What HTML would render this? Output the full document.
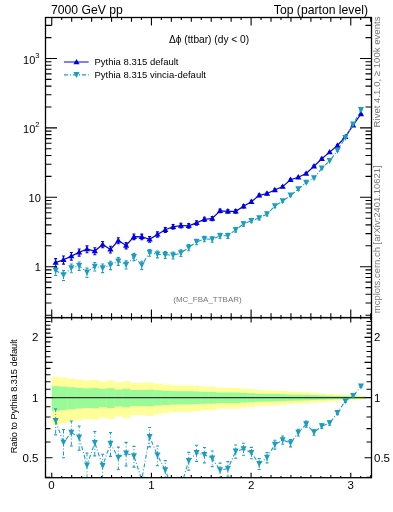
<!DOCTYPE html>
<html><head><meta charset="utf-8"><style>
html,body{margin:0;padding:0;background:#fff;}
body{width:393px;height:512px;overflow:hidden;position:relative;}
svg{position:absolute;left:0;top:0;will-change:transform;}
text{font-family:"Liberation Sans",sans-serif;}
</style></head><body>
<svg width="393" height="512" viewBox="0 0 393 512">
<defs><clipPath id="cm"><rect x="45.50" y="17.50" width="326.00" height="300.10"/></clipPath>
<clipPath id="cr"><rect x="45.50" y="317.60" width="326.00" height="160.10"/></clipPath></defs>
<g clip-path="url(#cr)"><g fill="#ffff99"><rect x="51.75" y="376.97" width="8.13" height="47.75"/><rect x="59.58" y="377.77" width="8.13" height="45.57"/><rect x="67.41" y="378.74" width="8.13" height="43.00"/><rect x="75.23" y="379.67" width="8.13" height="40.55"/><rect x="83.06" y="380.42" width="8.13" height="38.63"/><rect x="90.89" y="379.98" width="8.13" height="39.75"/><rect x="98.72" y="381.42" width="8.13" height="36.08"/><rect x="106.55" y="380.35" width="8.13" height="38.80"/><rect x="114.37" y="382.22" width="8.13" height="34.09"/><rect x="122.20" y="381.21" width="8.13" height="36.61"/><rect x="130.03" y="383.05" width="8.13" height="32.04"/><rect x="137.86" y="383.03" width="8.13" height="32.10"/><rect x="145.69" y="382.47" width="8.13" height="33.47"/><rect x="153.51" y="383.55" width="8.13" height="30.82"/><rect x="161.34" y="384.51" width="8.13" height="28.51"/><rect x="169.17" y="385.10" width="8.13" height="27.10"/><rect x="177.00" y="385.35" width="8.13" height="26.51"/><rect x="184.83" y="385.29" width="8.13" height="26.65"/><rect x="192.66" y="385.83" width="8.13" height="25.38"/><rect x="200.48" y="386.47" width="8.13" height="23.89"/><rect x="208.31" y="386.61" width="8.13" height="23.57"/><rect x="216.14" y="387.84" width="8.13" height="20.75"/><rect x="223.97" y="387.78" width="8.13" height="20.89"/><rect x="231.80" y="387.78" width="8.13" height="20.89"/><rect x="239.62" y="388.52" width="8.13" height="19.21"/><rect x="247.45" y="389.16" width="8.13" height="17.79"/><rect x="255.28" y="389.97" width="8.13" height="15.99"/><rect x="263.11" y="390.19" width="8.13" height="15.51"/><rect x="270.94" y="390.59" width="8.13" height="14.64"/><rect x="278.76" y="390.96" width="8.13" height="13.83"/><rect x="286.59" y="391.64" width="8.13" height="12.35"/><rect x="294.42" y="391.89" width="8.13" height="11.83"/><rect x="302.25" y="392.22" width="8.13" height="11.12"/><rect x="310.08" y="392.82" width="8.13" height="9.85"/><rect x="317.90" y="393.36" width="8.13" height="8.69"/><rect x="325.73" y="393.79" width="8.13" height="7.79"/><rect x="333.56" y="394.18" width="8.13" height="6.98"/><rect x="341.39" y="394.63" width="8.13" height="6.05"/><rect x="349.22" y="395.14" width="8.13" height="4.98"/><rect x="357.04" y="395.56" width="8.13" height="4.14"/></g><g fill="#98fb98"><rect x="51.75" y="386.21" width="8.13" height="24.51"/><rect x="59.58" y="386.69" width="8.13" height="23.38"/><rect x="67.41" y="387.31" width="8.13" height="21.97"/><rect x="75.23" y="387.90" width="8.13" height="20.62"/><rect x="83.06" y="388.38" width="8.13" height="19.54"/><rect x="90.89" y="388.10" width="8.13" height="20.17"/><rect x="98.72" y="389.02" width="8.13" height="18.10"/><rect x="106.55" y="388.33" width="8.13" height="19.64"/><rect x="114.37" y="389.54" width="8.13" height="16.95"/><rect x="122.20" y="388.89" width="8.13" height="18.40"/><rect x="130.03" y="390.02" width="8.13" height="15.89"/><rect x="137.86" y="390.01" width="8.13" height="15.91"/><rect x="145.69" y="389.70" width="8.13" height="16.59"/><rect x="153.51" y="390.29" width="8.13" height="15.29"/><rect x="161.34" y="390.81" width="8.13" height="14.16"/><rect x="169.17" y="391.13" width="8.13" height="13.47"/><rect x="177.00" y="391.26" width="8.13" height="13.18"/><rect x="184.83" y="391.23" width="8.13" height="13.25"/><rect x="192.66" y="391.52" width="8.13" height="12.62"/><rect x="200.48" y="391.86" width="8.13" height="11.89"/><rect x="208.31" y="391.93" width="8.13" height="11.73"/><rect x="216.14" y="392.58" width="8.13" height="10.34"/><rect x="223.97" y="392.55" width="8.13" height="10.41"/><rect x="231.80" y="392.55" width="8.13" height="10.41"/><rect x="239.62" y="392.94" width="8.13" height="9.58"/><rect x="247.45" y="393.28" width="8.13" height="8.87"/><rect x="255.28" y="393.70" width="8.13" height="7.98"/><rect x="263.11" y="393.82" width="8.13" height="7.74"/><rect x="270.94" y="394.02" width="8.13" height="7.30"/><rect x="278.76" y="394.22" width="8.13" height="6.90"/><rect x="286.59" y="394.57" width="8.13" height="6.17"/><rect x="294.42" y="394.70" width="8.13" height="5.91"/><rect x="302.25" y="394.87" width="8.13" height="5.55"/><rect x="310.08" y="395.17" width="8.13" height="4.92"/><rect x="317.90" y="395.45" width="8.13" height="4.34"/><rect x="325.73" y="395.67" width="8.13" height="3.89"/><rect x="333.56" y="395.87" width="8.13" height="3.49"/><rect x="341.39" y="396.10" width="8.13" height="3.03"/><rect x="349.22" y="396.36" width="8.13" height="2.49"/><rect x="357.04" y="396.57" width="8.13" height="2.07"/></g>
<line x1="51.75" y1="397.60" x2="364.87" y2="397.60" stroke="#333" stroke-width="1.1"/>
<polyline points="55.66,420.90 63.49,442.50 71.32,432.60 79.15,437.30 86.98,465.40 94.80,442.80 102.63,465.80 110.46,443.60 118.29,457.60 126.12,453.40 133.94,456.10 141.77,479.60 149.60,436.70 157.43,455.30 165.26,470.10 173.08,490.60 180.91,486.60 188.74,460.80 196.57,452.90 204.40,454.80 212.23,458.40 220.05,470.10 227.88,468.60 235.71,451.40 243.54,449.00 251.37,452.90 259.19,463.90 267.02,457.60 274.85,444.60 282.68,440.00 290.51,443.10 298.33,432.60 306.16,424.10 313.99,432.40 321.82,426.10 329.65,423.10 337.47,412.80 345.30,401.00 353.13,395.90 360.96,386.40" fill="none" stroke="#1a9dc0" stroke-width="1.1" stroke-dasharray="4 2 1 2"/>
<path d="M55.66 420.90V408.83M55.66 420.90V434.92" stroke="#1a9dc0" stroke-width="1.0" fill="none" stroke-dasharray="4 2 1 2"/><path d="M54.16 408.83H57.16M54.16 434.92H57.16" stroke="#1a9dc0" stroke-width="1.1" fill="none"/>
<path d="M55.66 424.10L58.66 418.10L52.66 418.10Z" fill="#1a9dc0"/>
<path d="M63.49 442.50V429.52M63.49 442.50V457.76" stroke="#1a9dc0" stroke-width="1.0" fill="none" stroke-dasharray="4 2 1 2"/><path d="M61.99 429.52H64.99M61.99 457.76H64.99" stroke="#1a9dc0" stroke-width="1.1" fill="none"/>
<path d="M63.49 445.70L66.49 439.70L60.49 439.70Z" fill="#1a9dc0"/>
<path d="M71.32 432.60V420.98M71.32 432.60V446.02" stroke="#1a9dc0" stroke-width="1.0" fill="none" stroke-dasharray="4 2 1 2"/><path d="M69.82 420.98H72.82M69.82 446.02H72.82" stroke="#1a9dc0" stroke-width="1.1" fill="none"/>
<path d="M71.32 435.80L74.32 429.80L68.32 429.80Z" fill="#1a9dc0"/>
<path d="M79.15 437.30V426.07M79.15 437.30V450.21" stroke="#1a9dc0" stroke-width="1.0" fill="none" stroke-dasharray="4 2 1 2"/><path d="M77.65 426.07H80.65M77.65 450.21H80.65" stroke="#1a9dc0" stroke-width="1.1" fill="none"/>
<path d="M79.15 440.50L82.15 434.50L76.15 434.50Z" fill="#1a9dc0"/>
<path d="M86.98 465.40V452.96M86.98 465.40V479.92" stroke="#1a9dc0" stroke-width="1.0" fill="none" stroke-dasharray="4 2 1 2"/><path d="M85.48 452.96H88.48M85.48 479.92H88.48" stroke="#1a9dc0" stroke-width="1.1" fill="none"/>
<path d="M86.98 468.60L89.98 462.60L83.98 462.60Z" fill="#1a9dc0"/>
<path d="M94.80 442.80V431.46M94.80 442.80V455.85" stroke="#1a9dc0" stroke-width="1.0" fill="none" stroke-dasharray="4 2 1 2"/><path d="M93.30 431.46H96.30M93.30 455.85H96.30" stroke="#1a9dc0" stroke-width="1.1" fill="none"/>
<path d="M94.80 446.00L97.80 440.00L91.80 440.00Z" fill="#1a9dc0"/>
<path d="M102.63 465.80V454.19M102.63 465.80V479.20" stroke="#1a9dc0" stroke-width="1.0" fill="none" stroke-dasharray="4 2 1 2"/><path d="M101.13 454.19H104.13M101.13 479.20H104.13" stroke="#1a9dc0" stroke-width="1.1" fill="none"/>
<path d="M102.63 469.00L105.63 463.00L99.63 463.00Z" fill="#1a9dc0"/>
<path d="M110.46 443.60V432.49M110.46 443.60V456.34" stroke="#1a9dc0" stroke-width="1.0" fill="none" stroke-dasharray="4 2 1 2"/><path d="M108.96 432.49H111.96M108.96 456.34H111.96" stroke="#1a9dc0" stroke-width="1.1" fill="none"/>
<path d="M110.46 446.80L113.46 440.80L107.46 440.80Z" fill="#1a9dc0"/>
<path d="M118.29 457.60V447.15M118.29 457.60V469.48" stroke="#1a9dc0" stroke-width="1.0" fill="none" stroke-dasharray="4 2 1 2"/><path d="M116.79 447.15H119.79M116.79 469.48H119.79" stroke="#1a9dc0" stroke-width="1.1" fill="none"/>
<path d="M118.29 460.80L121.29 454.80L115.29 454.80Z" fill="#1a9dc0"/>
<path d="M126.12 453.40V442.38M126.12 453.40V466.03" stroke="#1a9dc0" stroke-width="1.0" fill="none" stroke-dasharray="4 2 1 2"/><path d="M124.62 442.38H127.62M124.62 466.03H127.62" stroke="#1a9dc0" stroke-width="1.1" fill="none"/>
<path d="M126.12 456.60L129.12 450.60L123.12 450.60Z" fill="#1a9dc0"/>
<path d="M133.94 456.10V446.35M133.94 456.10V467.08" stroke="#1a9dc0" stroke-width="1.0" fill="none" stroke-dasharray="4 2 1 2"/><path d="M132.44 446.35H135.44M132.44 467.08H135.44" stroke="#1a9dc0" stroke-width="1.1" fill="none"/>
<path d="M133.94 459.30L136.94 453.30L130.94 453.30Z" fill="#1a9dc0"/>
<path d="M141.77 482.80L144.77 476.80L138.77 476.80Z" fill="#1a9dc0"/>
<path d="M149.60 436.70V427.56M149.60 436.70V446.91" stroke="#1a9dc0" stroke-width="1.0" fill="none" stroke-dasharray="4 2 1 2"/><path d="M148.10 427.56H151.10M148.10 446.91H151.10" stroke="#1a9dc0" stroke-width="1.1" fill="none"/>
<path d="M149.60 439.90L152.60 433.90L146.60 433.90Z" fill="#1a9dc0"/>
<path d="M157.43 455.30V445.94M157.43 455.30V465.79" stroke="#1a9dc0" stroke-width="1.0" fill="none" stroke-dasharray="4 2 1 2"/><path d="M155.93 445.94H158.93M155.93 465.79H158.93" stroke="#1a9dc0" stroke-width="1.1" fill="none"/>
<path d="M157.43 458.50L160.43 452.50L154.43 452.50Z" fill="#1a9dc0"/>
<path d="M165.26 470.10V460.66M165.26 470.10V480.69" stroke="#1a9dc0" stroke-width="1.0" fill="none" stroke-dasharray="4 2 1 2"/><path d="M163.76 460.66H166.76M163.76 480.69H166.76" stroke="#1a9dc0" stroke-width="1.1" fill="none"/>
<path d="M165.26 473.30L168.26 467.30L162.26 467.30Z" fill="#1a9dc0"/>
<path d="M173.08 493.80L176.08 487.80L170.08 487.80Z" fill="#1a9dc0"/>
<path d="M180.91 489.80L183.91 483.80L177.91 483.80Z" fill="#1a9dc0"/>
<path d="M188.74 460.80V452.38M188.74 460.80V470.13" stroke="#1a9dc0" stroke-width="1.0" fill="none" stroke-dasharray="4 2 1 2"/><path d="M187.24 452.38H190.24M187.24 470.13H190.24" stroke="#1a9dc0" stroke-width="1.1" fill="none"/>
<path d="M188.74 464.00L191.74 458.00L185.74 458.00Z" fill="#1a9dc0"/>
<path d="M196.57 452.90V445.20M196.57 452.90V461.35" stroke="#1a9dc0" stroke-width="1.0" fill="none" stroke-dasharray="4 2 1 2"/><path d="M195.07 445.20H198.07M195.07 461.35H198.07" stroke="#1a9dc0" stroke-width="1.1" fill="none"/>
<path d="M196.57 456.10L199.57 450.10L193.57 450.10Z" fill="#1a9dc0"/>
<path d="M204.40 454.80V447.45M204.40 454.80V462.83" stroke="#1a9dc0" stroke-width="1.0" fill="none" stroke-dasharray="4 2 1 2"/><path d="M202.90 447.45H205.90M202.90 462.83H205.90" stroke="#1a9dc0" stroke-width="1.1" fill="none"/>
<path d="M204.40 458.00L207.40 452.00L201.40 452.00Z" fill="#1a9dc0"/>
<path d="M212.23 458.40V450.99M212.23 458.40V466.50" stroke="#1a9dc0" stroke-width="1.0" fill="none" stroke-dasharray="4 2 1 2"/><path d="M210.73 450.99H213.73M210.73 466.50H213.73" stroke="#1a9dc0" stroke-width="1.1" fill="none"/>
<path d="M212.23 461.60L215.23 455.60L209.23 455.60Z" fill="#1a9dc0"/>
<path d="M220.05 470.10V463.10M220.05 470.10V477.71" stroke="#1a9dc0" stroke-width="1.0" fill="none" stroke-dasharray="4 2 1 2"/><path d="M218.55 463.10H221.55M218.55 477.71H221.55" stroke="#1a9dc0" stroke-width="1.1" fill="none"/>
<path d="M220.05 473.30L223.05 467.30L217.05 467.30Z" fill="#1a9dc0"/>
<path d="M227.88 468.60V461.61M227.88 468.60V476.20" stroke="#1a9dc0" stroke-width="1.0" fill="none" stroke-dasharray="4 2 1 2"/><path d="M226.38 461.61H229.38M226.38 476.20H229.38" stroke="#1a9dc0" stroke-width="1.1" fill="none"/>
<path d="M227.88 471.80L230.88 465.80L224.88 465.80Z" fill="#1a9dc0"/>
<path d="M235.71 451.40V445.05M235.71 451.40V458.25" stroke="#1a9dc0" stroke-width="1.0" fill="none" stroke-dasharray="4 2 1 2"/><path d="M234.21 445.05H237.21M234.21 458.25H237.21" stroke="#1a9dc0" stroke-width="1.1" fill="none"/>
<path d="M235.71 454.60L238.71 448.60L232.71 448.60Z" fill="#1a9dc0"/>
<path d="M243.54 449.00V443.22M243.54 449.00V455.20" stroke="#1a9dc0" stroke-width="1.0" fill="none" stroke-dasharray="4 2 1 2"/><path d="M242.04 443.22H245.04M242.04 455.20H245.04" stroke="#1a9dc0" stroke-width="1.1" fill="none"/>
<path d="M243.54 452.20L246.54 446.20L240.54 446.20Z" fill="#1a9dc0"/>
<path d="M251.37 452.90V447.41M251.37 452.90V458.76" stroke="#1a9dc0" stroke-width="1.0" fill="none" stroke-dasharray="4 2 1 2"/><path d="M249.87 447.41H252.87M249.87 458.76H252.87" stroke="#1a9dc0" stroke-width="1.1" fill="none"/>
<path d="M251.37 456.10L254.37 450.10L248.37 450.10Z" fill="#1a9dc0"/>
<path d="M259.19 463.90V458.63M259.19 463.90V469.51" stroke="#1a9dc0" stroke-width="1.0" fill="none" stroke-dasharray="4 2 1 2"/><path d="M257.69 458.63H260.69M257.69 469.51H260.69" stroke="#1a9dc0" stroke-width="1.1" fill="none"/>
<path d="M259.19 467.10L262.19 461.10L256.19 461.10Z" fill="#1a9dc0"/>
<path d="M267.02 457.60V452.66M267.02 457.60V462.84" stroke="#1a9dc0" stroke-width="1.0" fill="none" stroke-dasharray="4 2 1 2"/><path d="M265.52 452.66H268.52M265.52 462.84H268.52" stroke="#1a9dc0" stroke-width="1.1" fill="none"/>
<path d="M267.02 460.80L270.02 454.80L264.02 454.80Z" fill="#1a9dc0"/>
<path d="M274.85 444.60V440.26M274.85 444.60V449.17" stroke="#1a9dc0" stroke-width="1.0" fill="none" stroke-dasharray="4 2 1 2"/><path d="M273.35 440.26H276.35M273.35 449.17H276.35" stroke="#1a9dc0" stroke-width="1.1" fill="none"/>
<path d="M274.85 447.80L277.85 441.80L271.85 441.80Z" fill="#1a9dc0"/>
<path d="M282.68 440.00V436.00M282.68 440.00V444.20" stroke="#1a9dc0" stroke-width="1.0" fill="none" stroke-dasharray="4 2 1 2"/><path d="M281.18 436.00H284.18M281.18 444.20H284.18" stroke="#1a9dc0" stroke-width="1.1" fill="none"/>
<path d="M282.68 443.20L285.68 437.20L279.68 437.20Z" fill="#1a9dc0"/>
<path d="M290.51 443.10V439.45M290.51 443.10V446.91" stroke="#1a9dc0" stroke-width="1.0" fill="none" stroke-dasharray="4 2 1 2"/><path d="M289.01 439.45H292.01M289.01 446.91H292.01" stroke="#1a9dc0" stroke-width="1.1" fill="none"/>
<path d="M290.51 446.30L293.51 440.30L287.51 440.30Z" fill="#1a9dc0"/>
<path d="M298.33 432.60V429.30M298.33 432.60V436.03" stroke="#1a9dc0" stroke-width="1.0" fill="none" stroke-dasharray="4 2 1 2"/><path d="M296.83 429.30H299.83M296.83 436.03H299.83" stroke="#1a9dc0" stroke-width="1.1" fill="none"/>
<path d="M298.33 435.80L301.33 429.80L295.33 429.80Z" fill="#1a9dc0"/>
<path d="M306.16 424.10V421.14M306.16 424.10V427.16" stroke="#1a9dc0" stroke-width="1.0" fill="none" stroke-dasharray="4 2 1 2"/><path d="M304.66 421.14H307.66M304.66 427.16H307.66" stroke="#1a9dc0" stroke-width="1.1" fill="none"/>
<path d="M306.16 427.30L309.16 421.30L303.16 421.30Z" fill="#1a9dc0"/>
<path d="M313.99 432.40V429.65M313.99 432.40V435.24" stroke="#1a9dc0" stroke-width="1.0" fill="none" stroke-dasharray="4 2 1 2"/><path d="M312.49 429.65H315.49M312.49 435.24H315.49" stroke="#1a9dc0" stroke-width="1.1" fill="none"/>
<path d="M313.99 435.60L316.99 429.60L310.99 429.60Z" fill="#1a9dc0"/>
<path d="M321.82 426.10V423.75M321.82 426.10V428.51" stroke="#1a9dc0" stroke-width="1.0" fill="none" stroke-dasharray="4 2 1 2"/><path d="M320.32 423.75H323.32M320.32 428.51H323.32" stroke="#1a9dc0" stroke-width="1.1" fill="none"/>
<path d="M321.82 429.30L324.82 423.30L318.82 423.30Z" fill="#1a9dc0"/>
<path d="M329.65 423.10V421.03M329.65 423.10V425.22" stroke="#1a9dc0" stroke-width="1.0" fill="none" stroke-dasharray="4 2 1 2"/><path d="M328.15 421.03H331.15M328.15 425.22H331.15" stroke="#1a9dc0" stroke-width="1.1" fill="none"/>
<path d="M329.65 426.30L332.65 420.30L326.65 420.30Z" fill="#1a9dc0"/>
<path d="M337.47 412.80V411.05M337.47 412.80V414.59" stroke="#1a9dc0" stroke-width="1.0" fill="none" stroke-dasharray="4 2 1 2"/><path d="M335.97 411.05H338.97M335.97 414.59H338.97" stroke="#1a9dc0" stroke-width="1.1" fill="none"/>
<path d="M337.47 416.00L340.47 410.00L334.47 410.00Z" fill="#1a9dc0"/>
<path d="M345.30 401.00V399.58M345.30 401.00V402.45" stroke="#1a9dc0" stroke-width="1.0" fill="none" stroke-dasharray="4 2 1 2"/><path d="M343.80 399.58H346.80M343.80 402.45H346.80" stroke="#1a9dc0" stroke-width="1.1" fill="none"/>
<path d="M345.30 404.20L348.30 398.20L342.30 398.20Z" fill="#1a9dc0"/>
<path d="M353.13 395.90V394.76M353.13 395.90V397.06" stroke="#1a9dc0" stroke-width="1.0" fill="none" stroke-dasharray="4 2 1 2"/><path d="M351.63 394.76H354.63M351.63 397.06H354.63" stroke="#1a9dc0" stroke-width="1.1" fill="none"/>
<path d="M353.13 399.10L356.13 393.10L350.13 393.10Z" fill="#1a9dc0"/>
<path d="M360.96 386.40V385.50M360.96 386.40V387.31" stroke="#1a9dc0" stroke-width="1.0" fill="none" stroke-dasharray="4 2 1 2"/><path d="M359.46 385.50H362.46M359.46 387.31H362.46" stroke="#1a9dc0" stroke-width="1.1" fill="none"/>
<path d="M360.96 389.60L363.96 383.60L357.96 383.60Z" fill="#1a9dc0"/>
</g>
<g clip-path="url(#cm)">
<polyline points="55.66,262.60 63.49,259.80 71.32,256.10 79.15,252.30 86.98,249.10 94.80,251.00 102.63,244.50 110.46,249.40 118.29,240.60 126.12,245.50 133.94,236.70 141.77,236.80 149.60,239.30 157.43,234.40 165.26,229.80 173.08,226.80 180.91,225.50 188.74,225.80 196.57,222.90 204.40,219.30 212.23,218.50 220.05,210.90 227.88,211.30 235.71,211.30 243.54,206.30 251.37,201.70 259.19,195.30 267.02,193.50 274.85,190.00 282.68,186.60 290.51,179.80 298.33,177.20 306.16,173.50 313.99,166.20 321.82,158.70 329.65,152.10 337.47,145.50 345.30,136.90 353.13,125.20 360.96,114.00" fill="none" stroke="#0000e8" stroke-width="1.2"/>
<path d="M55.66 258.65V267.15M54.16 258.65H57.16M54.16 267.15H57.16" stroke="#0000e8" stroke-width="1.1" fill="none"/>
<path d="M55.66 259.40L58.76 264.80L52.56 264.80Z" fill="#0000e8"/>
<path d="M63.49 256.02V264.13M61.99 256.02H64.99M61.99 264.13H64.99" stroke="#0000e8" stroke-width="1.1" fill="none"/>
<path d="M63.49 256.60L66.59 262.00L60.39 262.00Z" fill="#0000e8"/>
<path d="M71.32 252.53V260.15M69.82 252.53H72.82M69.82 260.15H72.82" stroke="#0000e8" stroke-width="1.1" fill="none"/>
<path d="M71.32 252.90L74.42 258.30L68.22 258.30Z" fill="#0000e8"/>
<path d="M79.15 248.93V256.09M77.65 248.93H80.65M77.65 256.09H80.65" stroke="#0000e8" stroke-width="1.1" fill="none"/>
<path d="M79.15 249.10L82.25 254.50L76.05 254.50Z" fill="#0000e8"/>
<path d="M86.98 245.90V252.68M85.48 245.90H88.48M85.48 252.68H88.48" stroke="#0000e8" stroke-width="1.1" fill="none"/>
<path d="M86.98 245.90L90.08 251.30L83.88 251.30Z" fill="#0000e8"/>
<path d="M94.80 247.70V254.70M93.30 247.70H96.30M93.30 254.70H96.30" stroke="#0000e8" stroke-width="1.1" fill="none"/>
<path d="M94.80 247.80L97.90 253.20L91.70 253.20Z" fill="#0000e8"/>
<path d="M102.63 241.52V247.80M101.13 241.52H104.13M101.13 247.80H104.13" stroke="#0000e8" stroke-width="1.1" fill="none"/>
<path d="M102.63 241.30L105.73 246.70L99.53 246.70Z" fill="#0000e8"/>
<path d="M110.46 246.18V253.00M108.96 246.18H111.96M108.96 253.00H111.96" stroke="#0000e8" stroke-width="1.1" fill="none"/>
<path d="M110.46 246.20L113.56 251.60L107.36 251.60Z" fill="#0000e8"/>
<path d="M118.29 237.80V243.68M116.79 237.80H119.79M116.79 243.68H119.79" stroke="#0000e8" stroke-width="1.1" fill="none"/>
<path d="M118.29 237.40L121.39 242.80L115.19 242.80Z" fill="#0000e8"/>
<path d="M126.12 242.48V248.86M124.62 242.48H127.62M124.62 248.86H127.62" stroke="#0000e8" stroke-width="1.1" fill="none"/>
<path d="M126.12 242.30L129.22 247.70L123.02 247.70Z" fill="#0000e8"/>
<path d="M133.94 234.07V239.58M132.44 234.07H135.44M132.44 239.58H135.44" stroke="#0000e8" stroke-width="1.1" fill="none"/>
<path d="M133.94 233.50L137.04 238.90L130.84 238.90Z" fill="#0000e8"/>
<path d="M141.77 234.17V239.69M140.27 234.17H143.27M140.27 239.69H143.27" stroke="#0000e8" stroke-width="1.1" fill="none"/>
<path d="M141.77 233.60L144.87 239.00L138.67 239.00Z" fill="#0000e8"/>
<path d="M149.60 236.56V242.32M148.10 236.56H151.10M148.10 242.32H151.10" stroke="#0000e8" stroke-width="1.1" fill="none"/>
<path d="M149.60 236.10L152.70 241.50L146.50 241.50Z" fill="#0000e8"/>
<path d="M157.43 231.86V237.17M155.93 231.86H158.93M155.93 237.17H158.93" stroke="#0000e8" stroke-width="1.1" fill="none"/>
<path d="M157.43 231.20L160.53 236.60L154.33 236.60Z" fill="#0000e8"/>
<path d="M165.26 227.44V232.36M163.76 227.44H166.76M163.76 232.36H166.76" stroke="#0000e8" stroke-width="1.1" fill="none"/>
<path d="M165.26 226.60L168.36 232.00L162.16 232.00Z" fill="#0000e8"/>
<path d="M173.08 224.55V229.23M171.58 224.55H174.58M171.58 229.23H174.58" stroke="#0000e8" stroke-width="1.1" fill="none"/>
<path d="M173.08 223.60L176.18 229.00L169.98 229.00Z" fill="#0000e8"/>
<path d="M180.91 223.30V227.87M179.41 223.30H182.41M179.41 227.87H182.41" stroke="#0000e8" stroke-width="1.1" fill="none"/>
<path d="M180.91 222.30L184.01 227.70L177.81 227.70Z" fill="#0000e8"/>
<path d="M188.74 223.59V228.19M187.24 223.59H190.24M187.24 228.19H190.24" stroke="#0000e8" stroke-width="1.1" fill="none"/>
<path d="M188.74 222.60L191.84 228.00L185.64 228.00Z" fill="#0000e8"/>
<path d="M196.57 220.79V225.17M195.07 220.79H198.07M195.07 225.17H198.07" stroke="#0000e8" stroke-width="1.1" fill="none"/>
<path d="M196.57 219.70L199.67 225.10L193.47 225.10Z" fill="#0000e8"/>
<path d="M204.40 217.31V221.43M202.90 217.31H205.90M202.90 221.43H205.90" stroke="#0000e8" stroke-width="1.1" fill="none"/>
<path d="M204.40 216.10L207.50 221.50L201.30 221.50Z" fill="#0000e8"/>
<path d="M212.23 216.53V220.60M210.73 216.53H213.73M210.73 220.60H213.73" stroke="#0000e8" stroke-width="1.1" fill="none"/>
<path d="M212.23 215.30L215.33 220.70L209.13 220.70Z" fill="#0000e8"/>
<path d="M220.05 209.16V212.75M218.55 209.16H221.55M218.55 212.75H221.55" stroke="#0000e8" stroke-width="1.1" fill="none"/>
<path d="M220.05 207.70L223.15 213.10L216.95 213.10Z" fill="#0000e8"/>
<path d="M227.88 209.55V213.16M226.38 209.55H229.38M226.38 213.16H229.38" stroke="#0000e8" stroke-width="1.1" fill="none"/>
<path d="M227.88 208.10L230.98 213.50L224.78 213.50Z" fill="#0000e8"/>
<path d="M235.71 209.55V213.16M234.21 209.55H237.21M234.21 213.16H237.21" stroke="#0000e8" stroke-width="1.1" fill="none"/>
<path d="M235.71 208.10L238.81 213.50L232.61 213.50Z" fill="#0000e8"/>
<path d="M243.54 204.68V208.01M242.04 204.68H245.04M242.04 208.01H245.04" stroke="#0000e8" stroke-width="1.1" fill="none"/>
<path d="M243.54 203.10L246.64 208.50L240.44 208.50Z" fill="#0000e8"/>
<path d="M251.37 200.20V203.28M249.87 200.20H252.87M249.87 203.28H252.87" stroke="#0000e8" stroke-width="1.1" fill="none"/>
<path d="M251.37 198.50L254.47 203.90L248.27 203.90Z" fill="#0000e8"/>
<path d="M259.19 193.95V196.72M257.69 193.95H260.69M257.69 196.72H260.69" stroke="#0000e8" stroke-width="1.1" fill="none"/>
<path d="M259.19 192.10L262.29 197.50L256.09 197.50Z" fill="#0000e8"/>
<path d="M267.02 192.19V194.87M265.52 192.19H268.52M265.52 194.87H268.52" stroke="#0000e8" stroke-width="1.1" fill="none"/>
<path d="M267.02 190.30L270.12 195.70L263.92 195.70Z" fill="#0000e8"/>
<path d="M274.85 188.76V191.29M273.35 188.76H276.35M273.35 191.29H276.35" stroke="#0000e8" stroke-width="1.1" fill="none"/>
<path d="M274.85 186.80L277.95 192.20L271.75 192.20Z" fill="#0000e8"/>
<path d="M282.68 185.43V187.82M281.18 185.43H284.18M281.18 187.82H284.18" stroke="#0000e8" stroke-width="1.1" fill="none"/>
<path d="M282.68 183.40L285.78 188.80L279.58 188.80Z" fill="#0000e8"/>
<path d="M290.51 178.75V180.89M289.01 178.75H292.01M289.01 180.89H292.01" stroke="#0000e8" stroke-width="1.1" fill="none"/>
<path d="M290.51 176.60L293.61 182.00L287.41 182.00Z" fill="#0000e8"/>
<path d="M298.33 176.19V178.24M296.83 176.19H299.83M296.83 178.24H299.83" stroke="#0000e8" stroke-width="1.1" fill="none"/>
<path d="M298.33 174.00L301.43 179.40L295.23 179.40Z" fill="#0000e8"/>
<path d="M306.16 172.55V174.48M304.66 172.55H307.66M304.66 174.48H307.66" stroke="#0000e8" stroke-width="1.1" fill="none"/>
<path d="M306.16 170.30L309.26 175.70L303.06 175.70Z" fill="#0000e8"/>
<path d="M313.99 165.36V167.07M312.49 165.36H315.49M312.49 167.07H315.49" stroke="#0000e8" stroke-width="1.1" fill="none"/>
<path d="M313.99 163.00L317.09 168.40L310.89 168.40Z" fill="#0000e8"/>
<path d="M321.82 157.96V159.46M320.32 157.96H323.32M320.32 159.46H323.32" stroke="#0000e8" stroke-width="1.1" fill="none"/>
<path d="M321.82 155.50L324.92 160.90L318.72 160.90Z" fill="#0000e8"/>
<path d="M329.65 151.43V152.78M328.15 151.43H331.15M328.15 152.78H331.15" stroke="#0000e8" stroke-width="1.1" fill="none"/>
<path d="M329.65 148.90L332.75 154.30L326.55 154.30Z" fill="#0000e8"/>
<path d="M337.47 144.90V146.11M335.97 144.90H338.97M335.97 146.11H338.97" stroke="#0000e8" stroke-width="1.1" fill="none"/>
<path d="M337.47 142.30L340.57 147.70L334.37 147.70Z" fill="#0000e8"/>
<path d="M345.30 136.38V137.43M343.80 136.38H346.80M343.80 137.43H346.80" stroke="#0000e8" stroke-width="1.1" fill="none"/>
<path d="M345.30 133.70L348.40 139.10L342.20 139.10Z" fill="#0000e8"/>
<path d="M353.13 124.77V125.64M351.63 124.77H354.63M351.63 125.64H354.63" stroke="#0000e8" stroke-width="1.1" fill="none"/>
<path d="M353.13 122.00L356.23 127.40L350.03 127.40Z" fill="#0000e8"/>
<path d="M360.96 113.64V114.36M359.46 113.64H362.46M359.46 114.36H362.46" stroke="#0000e8" stroke-width="1.1" fill="none"/>
<path d="M360.96 110.80L364.06 116.20L357.86 116.20Z" fill="#0000e8"/>
<polyline points="55.66,270.48 63.49,275.17 71.32,268.04 79.15,265.87 86.98,272.42 94.80,266.48 102.63,267.96 110.46,265.15 118.29,261.21 126.12,264.65 133.94,256.79 141.77,265.05 149.60,252.66 157.43,254.21 165.26,254.75 173.08,255.30 180.91,253.00 188.74,247.52 196.57,241.88 204.40,238.94 212.23,239.39 220.05,235.85 227.88,235.73 235.71,229.76 243.54,223.93 251.37,220.68 259.19,218.10 267.02,214.11 274.85,206.10 282.68,201.10 290.51,195.38 298.33,189.14 306.16,182.49 313.99,178.07 321.82,168.38 329.65,160.74 337.47,150.57 345.30,137.87 353.13,124.40 360.96,109.91" fill="none" stroke="#1a9dc0" stroke-width="1.1" stroke-dasharray="4 2 1 2"/>
<path d="M55.66 270.48V266.29M55.66 270.48V275.34" stroke="#1a9dc0" stroke-width="1.0" fill="none" stroke-dasharray="4 2 1 2"/><path d="M54.16 266.29H57.16M54.16 275.34H57.16" stroke="#1a9dc0" stroke-width="1.1" fill="none"/>
<path d="M55.66 273.68L58.66 267.68L52.66 267.68Z" fill="#1a9dc0"/>
<path d="M63.49 275.17V270.67M63.49 275.17V280.47" stroke="#1a9dc0" stroke-width="1.0" fill="none" stroke-dasharray="4 2 1 2"/><path d="M61.99 270.67H64.99M61.99 280.47H64.99" stroke="#1a9dc0" stroke-width="1.1" fill="none"/>
<path d="M63.49 278.37L66.49 272.37L60.49 272.37Z" fill="#1a9dc0"/>
<path d="M71.32 268.04V264.00M71.32 268.04V272.69" stroke="#1a9dc0" stroke-width="1.0" fill="none" stroke-dasharray="4 2 1 2"/><path d="M69.82 264.00H72.82M69.82 272.69H72.82" stroke="#1a9dc0" stroke-width="1.1" fill="none"/>
<path d="M71.32 271.24L74.32 265.24L68.32 265.24Z" fill="#1a9dc0"/>
<path d="M79.15 265.87V261.97M79.15 265.87V270.35" stroke="#1a9dc0" stroke-width="1.0" fill="none" stroke-dasharray="4 2 1 2"/><path d="M77.65 261.97H80.65M77.65 270.35H80.65" stroke="#1a9dc0" stroke-width="1.1" fill="none"/>
<path d="M79.15 269.07L82.15 263.07L76.15 263.07Z" fill="#1a9dc0"/>
<path d="M86.98 272.42V268.10M86.98 272.42V277.46" stroke="#1a9dc0" stroke-width="1.0" fill="none" stroke-dasharray="4 2 1 2"/><path d="M85.48 268.10H88.48M85.48 277.46H88.48" stroke="#1a9dc0" stroke-width="1.1" fill="none"/>
<path d="M86.98 275.62L89.98 269.62L83.98 269.62Z" fill="#1a9dc0"/>
<path d="M94.80 266.48V262.54M94.80 266.48V271.00" stroke="#1a9dc0" stroke-width="1.0" fill="none" stroke-dasharray="4 2 1 2"/><path d="M93.30 262.54H96.30M93.30 271.00H96.30" stroke="#1a9dc0" stroke-width="1.1" fill="none"/>
<path d="M94.80 269.68L97.80 263.68L91.80 263.68Z" fill="#1a9dc0"/>
<path d="M102.63 267.96V263.93M102.63 267.96V272.61" stroke="#1a9dc0" stroke-width="1.0" fill="none" stroke-dasharray="4 2 1 2"/><path d="M101.13 263.93H104.13M101.13 272.61H104.13" stroke="#1a9dc0" stroke-width="1.1" fill="none"/>
<path d="M102.63 271.16L105.63 265.16L99.63 265.16Z" fill="#1a9dc0"/>
<path d="M110.46 265.15V261.30M110.46 265.15V269.58" stroke="#1a9dc0" stroke-width="1.0" fill="none" stroke-dasharray="4 2 1 2"/><path d="M108.96 261.30H111.96M108.96 269.58H111.96" stroke="#1a9dc0" stroke-width="1.1" fill="none"/>
<path d="M110.46 268.35L113.46 262.35L107.46 262.35Z" fill="#1a9dc0"/>
<path d="M118.29 261.21V257.59M118.29 261.21V265.33" stroke="#1a9dc0" stroke-width="1.0" fill="none" stroke-dasharray="4 2 1 2"/><path d="M116.79 257.59H119.79M116.79 265.33H119.79" stroke="#1a9dc0" stroke-width="1.1" fill="none"/>
<path d="M118.29 264.41L121.29 258.41L115.29 258.41Z" fill="#1a9dc0"/>
<path d="M126.12 264.65V260.83M126.12 264.65V269.04" stroke="#1a9dc0" stroke-width="1.0" fill="none" stroke-dasharray="4 2 1 2"/><path d="M124.62 260.83H127.62M124.62 269.04H127.62" stroke="#1a9dc0" stroke-width="1.1" fill="none"/>
<path d="M126.12 267.85L129.12 261.85L123.12 261.85Z" fill="#1a9dc0"/>
<path d="M133.94 256.79V253.41M133.94 256.79V260.60" stroke="#1a9dc0" stroke-width="1.0" fill="none" stroke-dasharray="4 2 1 2"/><path d="M132.44 253.41H135.44M132.44 260.60H135.44" stroke="#1a9dc0" stroke-width="1.1" fill="none"/>
<path d="M133.94 259.99L136.94 253.99L130.94 253.99Z" fill="#1a9dc0"/>
<path d="M141.77 265.05V261.20M141.77 265.05V269.46" stroke="#1a9dc0" stroke-width="1.0" fill="none" stroke-dasharray="4 2 1 2"/><path d="M140.27 261.20H143.27M140.27 269.46H143.27" stroke="#1a9dc0" stroke-width="1.1" fill="none"/>
<path d="M141.77 268.25L144.77 262.25L138.77 262.25Z" fill="#1a9dc0"/>
<path d="M149.60 252.66V249.49M149.60 252.66V256.20" stroke="#1a9dc0" stroke-width="1.0" fill="none" stroke-dasharray="4 2 1 2"/><path d="M148.10 249.49H151.10M148.10 256.20H151.10" stroke="#1a9dc0" stroke-width="1.1" fill="none"/>
<path d="M149.60 255.86L152.60 249.86L146.60 249.86Z" fill="#1a9dc0"/>
<path d="M157.43 254.21V250.97M157.43 254.21V257.86" stroke="#1a9dc0" stroke-width="1.0" fill="none" stroke-dasharray="4 2 1 2"/><path d="M155.93 250.97H158.93M155.93 257.86H158.93" stroke="#1a9dc0" stroke-width="1.1" fill="none"/>
<path d="M157.43 257.41L160.43 251.41L154.43 251.41Z" fill="#1a9dc0"/>
<path d="M165.26 254.75V251.47M165.26 254.75V258.43" stroke="#1a9dc0" stroke-width="1.0" fill="none" stroke-dasharray="4 2 1 2"/><path d="M163.76 251.47H166.76M163.76 258.43H166.76" stroke="#1a9dc0" stroke-width="1.1" fill="none"/>
<path d="M165.26 257.95L168.26 251.95L162.26 251.95Z" fill="#1a9dc0"/>
<path d="M173.08 255.30V252.00M173.08 255.30V259.01" stroke="#1a9dc0" stroke-width="1.0" fill="none" stroke-dasharray="4 2 1 2"/><path d="M171.58 252.00H174.58M171.58 259.01H174.58" stroke="#1a9dc0" stroke-width="1.1" fill="none"/>
<path d="M173.08 258.50L176.08 252.50L170.08 252.50Z" fill="#1a9dc0"/>
<path d="M180.91 253.00V249.81M180.91 253.00V256.56" stroke="#1a9dc0" stroke-width="1.0" fill="none" stroke-dasharray="4 2 1 2"/><path d="M179.41 249.81H182.41M179.41 256.56H182.41" stroke="#1a9dc0" stroke-width="1.1" fill="none"/>
<path d="M180.91 256.20L183.91 250.20L177.91 250.20Z" fill="#1a9dc0"/>
<path d="M188.74 247.52V244.60M188.74 247.52V250.76" stroke="#1a9dc0" stroke-width="1.0" fill="none" stroke-dasharray="4 2 1 2"/><path d="M187.24 244.60H190.24M187.24 250.76H190.24" stroke="#1a9dc0" stroke-width="1.1" fill="none"/>
<path d="M188.74 250.72L191.74 244.72L185.74 244.72Z" fill="#1a9dc0"/>
<path d="M196.57 241.88V239.21M196.57 241.88V244.81" stroke="#1a9dc0" stroke-width="1.0" fill="none" stroke-dasharray="4 2 1 2"/><path d="M195.07 239.21H198.07M195.07 244.81H198.07" stroke="#1a9dc0" stroke-width="1.1" fill="none"/>
<path d="M196.57 245.08L199.57 239.08L193.57 239.08Z" fill="#1a9dc0"/>
<path d="M204.40 238.94V236.39M204.40 238.94V241.73" stroke="#1a9dc0" stroke-width="1.0" fill="none" stroke-dasharray="4 2 1 2"/><path d="M202.90 236.39H205.90M202.90 241.73H205.90" stroke="#1a9dc0" stroke-width="1.1" fill="none"/>
<path d="M204.40 242.14L207.40 236.14L201.40 236.14Z" fill="#1a9dc0"/>
<path d="M212.23 239.39V236.82M212.23 239.39V242.20" stroke="#1a9dc0" stroke-width="1.0" fill="none" stroke-dasharray="4 2 1 2"/><path d="M210.73 236.82H213.73M210.73 242.20H213.73" stroke="#1a9dc0" stroke-width="1.1" fill="none"/>
<path d="M212.23 242.59L215.23 236.59L209.23 236.59Z" fill="#1a9dc0"/>
<path d="M220.05 235.85V233.42M220.05 235.85V238.49" stroke="#1a9dc0" stroke-width="1.0" fill="none" stroke-dasharray="4 2 1 2"/><path d="M218.55 233.42H221.55M218.55 238.49H221.55" stroke="#1a9dc0" stroke-width="1.1" fill="none"/>
<path d="M220.05 239.05L223.05 233.05L217.05 233.05Z" fill="#1a9dc0"/>
<path d="M227.88 235.73V233.30M227.88 235.73V238.37" stroke="#1a9dc0" stroke-width="1.0" fill="none" stroke-dasharray="4 2 1 2"/><path d="M226.38 233.30H229.38M226.38 238.37H229.38" stroke="#1a9dc0" stroke-width="1.1" fill="none"/>
<path d="M227.88 238.93L230.88 232.93L224.88 232.93Z" fill="#1a9dc0"/>
<path d="M235.71 229.76V227.56M235.71 229.76V232.14" stroke="#1a9dc0" stroke-width="1.0" fill="none" stroke-dasharray="4 2 1 2"/><path d="M234.21 227.56H237.21M234.21 232.14H237.21" stroke="#1a9dc0" stroke-width="1.1" fill="none"/>
<path d="M235.71 232.96L238.71 226.96L232.71 226.96Z" fill="#1a9dc0"/>
<path d="M243.54 223.93V221.92M243.54 223.93V226.08" stroke="#1a9dc0" stroke-width="1.0" fill="none" stroke-dasharray="4 2 1 2"/><path d="M242.04 221.92H245.04M242.04 226.08H245.04" stroke="#1a9dc0" stroke-width="1.1" fill="none"/>
<path d="M243.54 227.13L246.54 221.13L240.54 221.13Z" fill="#1a9dc0"/>
<path d="M251.37 220.68V218.78M251.37 220.68V222.71" stroke="#1a9dc0" stroke-width="1.0" fill="none" stroke-dasharray="4 2 1 2"/><path d="M249.87 218.78H252.87M249.87 222.71H252.87" stroke="#1a9dc0" stroke-width="1.1" fill="none"/>
<path d="M251.37 223.88L254.37 217.88L248.37 217.88Z" fill="#1a9dc0"/>
<path d="M259.19 218.10V216.27M259.19 218.10V220.04" stroke="#1a9dc0" stroke-width="1.0" fill="none" stroke-dasharray="4 2 1 2"/><path d="M257.69 216.27H260.69M257.69 220.04H260.69" stroke="#1a9dc0" stroke-width="1.1" fill="none"/>
<path d="M259.19 221.30L262.19 215.30L256.19 215.30Z" fill="#1a9dc0"/>
<path d="M267.02 214.11V212.40M267.02 214.11V215.93" stroke="#1a9dc0" stroke-width="1.0" fill="none" stroke-dasharray="4 2 1 2"/><path d="M265.52 212.40H268.52M265.52 215.93H268.52" stroke="#1a9dc0" stroke-width="1.1" fill="none"/>
<path d="M267.02 217.31L270.02 211.31L264.02 211.31Z" fill="#1a9dc0"/>
<path d="M274.85 206.10V204.59M274.85 206.10V207.69" stroke="#1a9dc0" stroke-width="1.0" fill="none" stroke-dasharray="4 2 1 2"/><path d="M273.35 204.59H276.35M273.35 207.69H276.35" stroke="#1a9dc0" stroke-width="1.1" fill="none"/>
<path d="M274.85 209.30L277.85 203.30L271.85 203.30Z" fill="#1a9dc0"/>
<path d="M282.68 201.10V199.72M282.68 201.10V202.56" stroke="#1a9dc0" stroke-width="1.0" fill="none" stroke-dasharray="4 2 1 2"/><path d="M281.18 199.72H284.18M281.18 202.56H284.18" stroke="#1a9dc0" stroke-width="1.1" fill="none"/>
<path d="M282.68 204.30L285.68 198.30L279.68 198.30Z" fill="#1a9dc0"/>
<path d="M290.51 195.38V194.11M290.51 195.38V196.70" stroke="#1a9dc0" stroke-width="1.0" fill="none" stroke-dasharray="4 2 1 2"/><path d="M289.01 194.11H292.01M289.01 196.70H292.01" stroke="#1a9dc0" stroke-width="1.1" fill="none"/>
<path d="M290.51 198.58L293.51 192.58L287.51 192.58Z" fill="#1a9dc0"/>
<path d="M298.33 189.14V187.99M298.33 189.14V190.33" stroke="#1a9dc0" stroke-width="1.0" fill="none" stroke-dasharray="4 2 1 2"/><path d="M296.83 187.99H299.83M296.83 190.33H299.83" stroke="#1a9dc0" stroke-width="1.1" fill="none"/>
<path d="M298.33 192.34L301.33 186.34L295.33 186.34Z" fill="#1a9dc0"/>
<path d="M306.16 182.49V181.46M306.16 182.49V183.55" stroke="#1a9dc0" stroke-width="1.0" fill="none" stroke-dasharray="4 2 1 2"/><path d="M304.66 181.46H307.66M304.66 183.55H307.66" stroke="#1a9dc0" stroke-width="1.1" fill="none"/>
<path d="M306.16 185.69L309.16 179.69L303.16 179.69Z" fill="#1a9dc0"/>
<path d="M313.99 178.07V177.11M313.99 178.07V179.05" stroke="#1a9dc0" stroke-width="1.0" fill="none" stroke-dasharray="4 2 1 2"/><path d="M312.49 177.11H315.49M312.49 179.05H315.49" stroke="#1a9dc0" stroke-width="1.1" fill="none"/>
<path d="M313.99 181.27L316.99 175.27L310.99 175.27Z" fill="#1a9dc0"/>
<path d="M321.82 168.38V167.57M321.82 168.38V169.22" stroke="#1a9dc0" stroke-width="1.0" fill="none" stroke-dasharray="4 2 1 2"/><path d="M320.32 167.57H323.32M320.32 169.22H323.32" stroke="#1a9dc0" stroke-width="1.1" fill="none"/>
<path d="M321.82 171.58L324.82 165.58L318.82 165.58Z" fill="#1a9dc0"/>
<path d="M329.65 160.74V160.02M329.65 160.74V161.48" stroke="#1a9dc0" stroke-width="1.0" fill="none" stroke-dasharray="4 2 1 2"/><path d="M328.15 160.02H331.15M328.15 161.48H331.15" stroke="#1a9dc0" stroke-width="1.1" fill="none"/>
<path d="M329.65 163.94L332.65 157.94L326.65 157.94Z" fill="#1a9dc0"/>
<path d="M337.47 150.57V149.96M337.47 150.57V151.19" stroke="#1a9dc0" stroke-width="1.0" fill="none" stroke-dasharray="4 2 1 2"/><path d="M335.97 149.96H338.97M335.97 151.19H338.97" stroke="#1a9dc0" stroke-width="1.1" fill="none"/>
<path d="M337.47 153.77L340.47 147.77L334.47 147.77Z" fill="#1a9dc0"/>
<path d="M345.30 137.87V137.38M345.30 137.87V138.37" stroke="#1a9dc0" stroke-width="1.0" fill="none" stroke-dasharray="4 2 1 2"/><path d="M343.80 137.38H346.80M343.80 138.37H346.80" stroke="#1a9dc0" stroke-width="1.1" fill="none"/>
<path d="M345.30 141.07L348.30 135.07L342.30 135.07Z" fill="#1a9dc0"/>
<path d="M353.13 124.40V124.01M353.13 124.40V124.80" stroke="#1a9dc0" stroke-width="1.0" fill="none" stroke-dasharray="4 2 1 2"/><path d="M351.63 124.01H354.63M351.63 124.80H354.63" stroke="#1a9dc0" stroke-width="1.1" fill="none"/>
<path d="M353.13 127.60L356.13 121.60L350.13 121.60Z" fill="#1a9dc0"/>
<path d="M360.96 109.91V109.59M360.96 109.91V110.22" stroke="#1a9dc0" stroke-width="1.0" fill="none" stroke-dasharray="4 2 1 2"/><path d="M359.46 109.59H362.46M359.46 110.22H362.46" stroke="#1a9dc0" stroke-width="1.1" fill="none"/>
<path d="M360.96 113.11L363.96 107.11L357.96 107.11Z" fill="#1a9dc0"/>
</g>
<path d="M45.50 315.21H51.50M365.50 315.21H371.50M45.50 302.99H51.50M365.50 302.99H371.50M45.50 294.32H51.50M365.50 294.32H371.50M45.50 287.59H51.50M365.50 287.59H371.50M45.50 282.10H51.50M365.50 282.10H371.50M45.50 277.45H51.50M365.50 277.45H371.50M45.50 273.43H51.50M365.50 273.43H371.50M45.50 269.88H51.50M365.50 269.88H371.50M45.50 266.70H57.00M360.00 266.70H371.50M45.50 245.81H51.50M365.50 245.81H371.50M45.50 233.59H51.50M365.50 233.59H371.50M45.50 224.92H51.50M365.50 224.92H371.50M45.50 218.19H51.50M365.50 218.19H371.50M45.50 212.70H51.50M365.50 212.70H371.50M45.50 208.05H51.50M365.50 208.05H371.50M45.50 204.03H51.50M365.50 204.03H371.50M45.50 200.48H51.50M365.50 200.48H371.50M45.50 197.30H57.00M360.00 197.30H371.50M45.50 176.41H51.50M365.50 176.41H371.50M45.50 164.19H51.50M365.50 164.19H371.50M45.50 155.52H51.50M365.50 155.52H371.50M45.50 148.79H51.50M365.50 148.79H371.50M45.50 143.30H51.50M365.50 143.30H371.50M45.50 138.65H51.50M365.50 138.65H371.50M45.50 134.63H51.50M365.50 134.63H371.50M45.50 131.08H51.50M365.50 131.08H371.50M45.50 127.90H57.00M360.00 127.90H371.50M45.50 107.01H51.50M365.50 107.01H371.50M45.50 94.79H51.50M365.50 94.79H371.50M45.50 86.12H51.50M365.50 86.12H371.50M45.50 79.39H51.50M365.50 79.39H371.50M45.50 73.90H51.50M365.50 73.90H371.50M45.50 69.25H51.50M365.50 69.25H371.50M45.50 65.23H51.50M365.50 65.23H371.50M45.50 61.68H51.50M365.50 61.68H371.50M45.50 58.50H57.00M360.00 58.50H371.50M45.50 37.61H51.50M365.50 37.61H371.50M45.50 25.39H51.50M365.50 25.39H371.50M45.50 477.19H50.50M366.50 477.19H371.50M45.50 457.81H52.50M364.50 457.81H371.50M45.50 441.97H50.50M366.50 441.97H371.50M45.50 428.58H50.50M366.50 428.58H371.50M45.50 416.98H50.50M366.50 416.98H371.50M45.50 406.75H50.50M366.50 406.75H371.50M45.50 397.60H52.50M364.50 397.60H371.50M45.50 389.32H50.50M366.50 389.32H371.50M45.50 381.76H50.50M366.50 381.76H371.50M45.50 374.81H50.50M366.50 374.81H371.50M45.50 368.37H50.50M366.50 368.37H371.50M45.50 362.38H52.50M364.50 362.38H371.50M45.50 356.78H50.50M366.50 356.78H371.50M45.50 351.51H50.50M366.50 351.51H371.50M45.50 346.55H50.50M366.50 346.55H371.50M45.50 341.85H50.50M366.50 341.85H371.50M45.50 337.39H52.50M364.50 337.39H371.50M45.50 333.16H50.50M366.50 333.16H371.50M45.50 329.12H50.50M366.50 329.12H371.50M45.50 325.25H50.50M366.50 325.25H371.50M45.50 321.56H50.50M366.50 321.56H371.50M51.75 17.50V25.50M51.75 317.60V309.60M51.75 317.60V322.60M51.75 477.70V472.70M61.72 17.50V20.00M61.72 317.60V315.10M61.72 317.60V319.30M61.72 477.70V476.00M71.68 17.50V21.80M71.68 317.60V313.30M71.68 317.60V320.20M71.68 477.70V475.10M81.65 17.50V20.00M81.65 317.60V315.10M81.65 317.60V319.30M81.65 477.70V476.00M91.62 17.50V21.80M91.62 317.60V313.30M91.62 317.60V320.20M91.62 477.70V475.10M101.59 17.50V20.00M101.59 317.60V315.10M101.59 317.60V319.30M101.59 477.70V476.00M111.55 17.50V21.80M111.55 317.60V313.30M111.55 317.60V320.20M111.55 477.70V475.10M121.52 17.50V20.00M121.52 317.60V315.10M121.52 317.60V319.30M121.52 477.70V476.00M131.49 17.50V21.80M131.49 317.60V313.30M131.49 317.60V320.20M131.49 477.70V475.10M141.45 17.50V20.00M141.45 317.60V315.10M141.45 317.60V319.30M141.45 477.70V476.00M151.42 17.50V25.50M151.42 317.60V309.60M151.42 317.60V322.60M151.42 477.70V472.70M161.39 17.50V20.00M161.39 317.60V315.10M161.39 317.60V319.30M161.39 477.70V476.00M171.35 17.50V21.80M171.35 317.60V313.30M171.35 317.60V320.20M171.35 477.70V475.10M181.32 17.50V20.00M181.32 317.60V315.10M181.32 317.60V319.30M181.32 477.70V476.00M191.29 17.50V21.80M191.29 317.60V313.30M191.29 317.60V320.20M191.29 477.70V475.10M201.25 17.50V20.00M201.25 317.60V315.10M201.25 317.60V319.30M201.25 477.70V476.00M211.22 17.50V21.80M211.22 317.60V313.30M211.22 317.60V320.20M211.22 477.70V475.10M221.19 17.50V20.00M221.19 317.60V315.10M221.19 317.60V319.30M221.19 477.70V476.00M231.16 17.50V21.80M231.16 317.60V313.30M231.16 317.60V320.20M231.16 477.70V475.10M241.12 17.50V20.00M241.12 317.60V315.10M241.12 317.60V319.30M241.12 477.70V476.00M251.09 17.50V25.50M251.09 317.60V309.60M251.09 317.60V322.60M251.09 477.70V472.70M261.06 17.50V20.00M261.06 317.60V315.10M261.06 317.60V319.30M261.06 477.70V476.00M271.02 17.50V21.80M271.02 317.60V313.30M271.02 317.60V320.20M271.02 477.70V475.10M280.99 17.50V20.00M280.99 317.60V315.10M280.99 317.60V319.30M280.99 477.70V476.00M290.96 17.50V21.80M290.96 317.60V313.30M290.96 317.60V320.20M290.96 477.70V475.10M300.93 17.50V20.00M300.93 317.60V315.10M300.93 317.60V319.30M300.93 477.70V476.00M310.89 17.50V21.80M310.89 317.60V313.30M310.89 317.60V320.20M310.89 477.70V475.10M320.86 17.50V20.00M320.86 317.60V315.10M320.86 317.60V319.30M320.86 477.70V476.00M330.83 17.50V21.80M330.83 317.60V313.30M330.83 317.60V320.20M330.83 477.70V475.10M340.79 17.50V20.00M340.79 317.60V315.10M340.79 317.60V319.30M340.79 477.70V476.00M350.76 17.50V25.50M350.76 317.60V309.60M350.76 317.60V322.60M350.76 477.70V472.70M360.73 17.50V20.00M360.73 317.60V315.10M360.73 317.60V319.30M360.73 477.70V476.00M370.69 17.50V21.80M370.69 317.60V313.30M370.69 317.60V320.20M370.69 477.70V475.10" stroke="#000" stroke-width="1.1" fill="none"/>
<rect x="45.50" y="17.50" width="326.00" height="300.10" fill="none" stroke="#000" stroke-width="1.3"/>
<rect x="45.50" y="317.60" width="326.00" height="160.10" fill="none" stroke="#000" stroke-width="1.3"/>
<g fill="#000">
<text x="51" y="14" font-size="12.2">7000 GeV pp</text>
<text x="368" y="14" font-size="12.2" text-anchor="end">Top (parton level)</text>
<text x="169" y="42.5" font-size="10.2">&#916;&#981; (ttbar) (dy &lt; 0)</text>
<text x="94.5" y="65.1" font-size="9.5">Pythia 8.315 default</text>
<text x="94.5" y="77.9" font-size="9.5">Pythia 8.315 vincia-default</text>
<text x="39.6" y="63.7" font-size="11" text-anchor="end">10<tspan font-size="7.6" dy="-5.6">3</tspan></text>
<text x="39.6" y="133" font-size="11" text-anchor="end">10<tspan font-size="7.6" dy="-5.6">2</tspan></text>
<text x="40.8" y="202.3" font-size="11" text-anchor="end">10</text>
<text x="40.8" y="271.3" font-size="11" text-anchor="end">1</text>
<text x="38.4" y="340.9" font-size="11.5" text-anchor="end">2</text>
<text x="38.4" y="401.8" font-size="11.5" text-anchor="end">1</text>
<text x="38.4" y="462.0" font-size="11.5" text-anchor="end">0.5</text>
<text x="374" y="340.9" font-size="11.5">2</text>
<text x="374" y="401.8" font-size="11.5">1</text>
<text x="374" y="462.0" font-size="11.5">0.5</text>
<text x="51.5" y="489" font-size="11.5" text-anchor="middle">0</text>
<text x="151.4" y="489" font-size="11.5" text-anchor="middle">1</text>
<text x="251.1" y="489" font-size="11.5" text-anchor="middle">2</text>
<text x="350.7" y="489" font-size="11.5" text-anchor="middle">3</text>
</g>
<text x="207.5" y="301.6" font-size="8" fill="#777" text-anchor="middle">(MC_FBA_TTBAR)</text>
<text transform="translate(380,127.4) rotate(-90)" font-size="9.6" fill="#777">Rivet 4.1.0, &#8805; 100k events</text>
<text transform="translate(380,313.2) rotate(-90)" font-size="9.45" fill="#777">mcplots.cern.ch [arXiv:2401.10621]</text>
<text transform="translate(17.1,453.3) rotate(-90)" font-size="9.3" letter-spacing="-0.1" fill="#000">Ratio to Pythia 8.315 default</text>
<path d="M64 62.0H88.7" stroke="#0000e8" stroke-width="1.0"/>
<path d="M76.50 58.90L79.60 64.30L73.40 64.30Z" fill="#0000e8"/>
<path d="M64 74.9H88.7" stroke="#1a9dc0" stroke-width="1.1" stroke-dasharray="4 2 1 2"/>
<path d="M76.50 78.10L79.50 72.10L73.50 72.10Z" fill="#1a9dc0"/>
</svg>
</body></html>
